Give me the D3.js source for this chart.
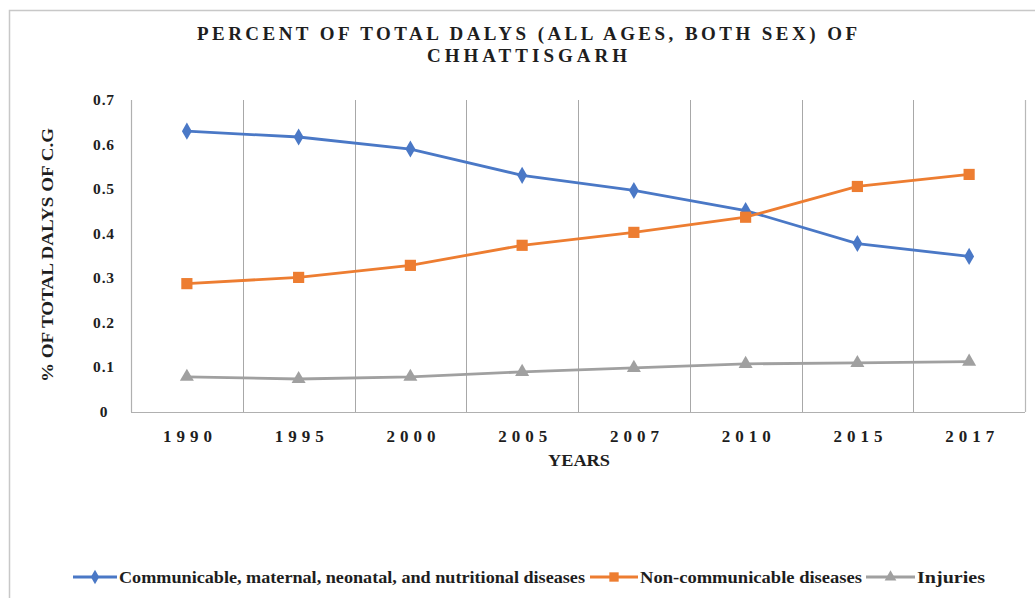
<!DOCTYPE html>
<html>
<head>
<meta charset="utf-8">
<script src="https://cdn.jsdelivr.net/npm/d3@7"></script>
<style>
  html, body { margin: 0; padding: 0; background: #fff; }
  svg { display: block; }
</style>
</head>
<body>
<svg id="chart" width="1035" height="598"></svg>
<script>
// Years on the category axis
const years = ["1990", "1995", "2000", "2005", "2007", "2010", "2015", "2017"];

// Share of total DALYs for each cause group
const communicable = [0.630, 0.617, 0.590, 0.531, 0.497, 0.452, 0.378, 0.349];
const nonCommunicable = [0.288, 0.302, 0.329, 0.374, 0.403, 0.437, 0.506, 0.533];
const injuries = [0.079, 0.074, 0.079, 0.090, 0.099, 0.108, 0.110, 0.113];

const yTicks = [0, 0.1, 0.2, 0.3, 0.4, 0.5, 0.6, 0.7];

const seriesNames = [
  "Communicable, maternal, neonatal, and nutritional diseases",
  "Non-communicable diseases",
  "Injuries"
];

const FONT = "'Liberation Serif', 'Times New Roman', 'DejaVu Serif', serif";
const INK = "#1e1e1e";

const series = [
  { name: seriesNames[0], values: communicable, color: "#4a78c6", symbol: d3.symbolDiamond, size: 85 },
  { name: seriesNames[1], values: nonCommunicable, color: "#ed7d31", symbol: d3.symbolSquare, size: 125 },
  { name: seriesNames[2], values: injuries, color: "#a0a0a0", symbol: d3.symbolTriangle, size: 85 }
];

const svg = d3.select("#chart");
const margin = { left: 131, right: 1025, top: 100, bottom: 412 };

// Outer chart frame
svg.append("rect")
  .attr("x", 9.5).attr("y", 10.5)
  .attr("width", 1100).attr("height", 700)
  .attr("fill", "none").attr("stroke", "#c8c8c8").attr("stroke-width", 1.5);

const x = d3.scaleBand().domain(years).range([margin.left, margin.right]).padding(0);
const y = d3.scaleLinear().domain([0, 0.7]).range([margin.bottom, margin.top]);

// Vertical category separators
const bounds = years.slice(1).map(d => x(d));
svg.append("g").selectAll("line").data(bounds).join("line")
  .attr("x1", d => Math.round(d) + 0.5).attr("x2", d => Math.round(d) + 0.5)
  .attr("y1", margin.top).attr("y2", margin.bottom)
  .attr("stroke", "#a8a8a8").attr("stroke-width", 1);

// Plot edges
svg.append("line")
  .attr("x1", margin.left + 0.5).attr("x2", margin.left + 0.5)
  .attr("y1", margin.top).attr("y2", margin.bottom)
  .attr("stroke", "#b0b0b0").attr("stroke-width", 1.2);
svg.append("line")
  .attr("x1", margin.right + 0.5).attr("x2", margin.right + 0.5)
  .attr("y1", margin.top).attr("y2", margin.bottom)
  .attr("stroke", "#b8b8b8").attr("stroke-width", 1.2);
svg.append("line")
  .attr("x1", margin.left).attr("x2", margin.right)
  .attr("y1", margin.bottom + 0.5).attr("y2", margin.bottom + 0.5)
  .attr("stroke", "#b0b0b0").attr("stroke-width", 1.2);

// Shared text styling
function styled(sel, size) {
  return sel.attr("font-family", FONT).attr("font-weight", "bold")
    .attr("font-size", size).attr("fill", INK);
}

// Y tick labels
styled(svg.append("g").selectAll("text").data(yTicks).join("text"), 15.5)
  .attr("x", 104).attr("y", d => y(d) + 5)
  .attr("text-anchor", "middle")
  .attr("letter-spacing", 0.8)
  .text(d => d3.format("")(d));

// X tick labels
styled(svg.append("g").selectAll("text").data(years).join("text"), 17)
  .attr("x", d => x(d) + x.bandwidth() / 2 - 24).attr("y", 442)
  .attr("textLength", 49)
  .attr("lengthAdjust", "spacing")
  .text(d => d);

// Axis titles
styled(svg.append("text"), 16.5)
  .attr("x", 548).attr("y", 466)
  .attr("textLength", 62)
  .attr("lengthAdjust", "spacingAndGlyphs")
  .text("YEARS");

styled(svg.append("text"), 17)
  .attr("transform", "translate(53,382) rotate(-90)")
  .attr("textLength", 254)
  .attr("lengthAdjust", "spacingAndGlyphs")
  .text("% OF TOTAL DALYS OF C.G");

// Title
styled(svg.append("text"), 19)
  .attr("x", 197).attr("y", 40)
  .attr("textLength", 660)
  .attr("lengthAdjust", "spacing")
  .text("PERCENT OF TOTAL DALYS (ALL AGES, BOTH SEX) OF");
styled(svg.append("text"), 19)
  .attr("x", 427).attr("y", 62)
  .attr("textLength", 200)
  .attr("lengthAdjust", "spacing")
  .text("CHHATTISGARH");

// Series lines and markers
const line = d3.line()
  .x((d, i) => x(years[i]) + x.bandwidth() / 2)
  .y(d => y(d));

series.forEach(s => {
  svg.append("path")
    .datum(s.values)
    .attr("d", line)
    .attr("fill", "none")
    .attr("stroke", s.color)
    .attr("stroke-width", 2.8);
  svg.append("g").selectAll("path").data(s.values).join("path")
    .attr("transform", (d, i) => `translate(${x(years[i]) + x.bandwidth() / 2},${y(d)})`)
    .attr("d", d3.symbol(s.symbol, s.size))
    .attr("fill", s.color);
});

// Legend
const legendItems = [
  { lx: 73, tx: 119, tw: 466 },
  { lx: 590, tx: 640, tw: 222 },
  { lx: 866, tx: 917, tw: 68 }
];
const lg = svg.append("g");
series.forEach((s, i) => {
  const it = legendItems[i];
  const lineEnd = it.tx - 2;
  lg.append("line")
    .attr("x1", it.lx).attr("x2", lineEnd)
    .attr("y1", 577).attr("y2", 577)
    .attr("stroke", s.color).attr("stroke-width", 2.8);
  lg.append("path")
    .attr("transform", `translate(${(it.lx + lineEnd) / 2},577)`)
    .attr("d", d3.symbol(s.symbol, s.size * 0.7))
    .attr("fill", s.color);
  styled(lg.append("text"), 17)
    .attr("x", it.tx).attr("y", 583)
    .attr("textLength", it.tw)
    .attr("lengthAdjust", "spacingAndGlyphs")
    .text(s.name);
});
</script>
</body>
</html>
